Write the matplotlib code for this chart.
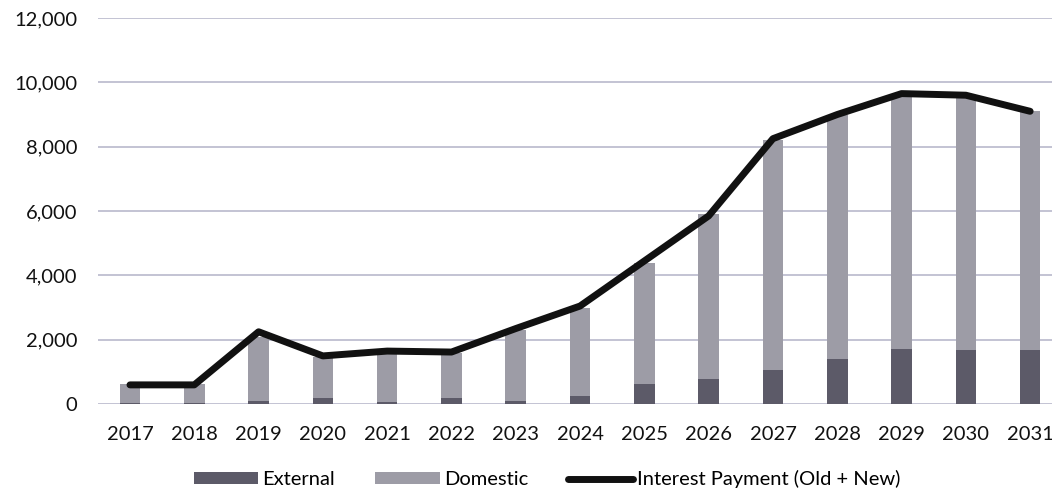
import numpy as np
import matplotlib.pyplot as plt
from matplotlib.ticker import FuncFormatter

years = ['2017', '2018', '2019', '2020', '2021', '2022', '2023', '2024',
         '2025', '2026', '2027', '2028', '2029', '2030', '2031']
total = [620, 620, 2100, 1460, 1590, 1590, 2300, 3000,
         4400, 5900, 8200, 9000, 9600, 9600, 9100]
external = [30, 30, 100, 200, 80, 200, 100, 250,
            620, 780, 1060, 1400, 1710, 1680, 1690]
domestic = [t - e for t, e in zip(total, external)]
interest = [600, 600, 2250, 1500, 1650, 1620, 2350, 3050,
            4450, 5850, 8250, 9000, 9650, 9600, 9100]

plt.rcParams['font.family'] = ['Lato', 'DejaVu Sans']

fig = plt.figure(figsize=(10.52, 4.99), dpi=100)
ax = fig.add_axes([0.093, 0.19, 0.907, 0.774])

x = np.arange(len(years))
w = 0.32
b1 = ax.bar(x, external, w, color='#5c5a68', label='External', zorder=2)
b2 = ax.bar(x, domestic, w, bottom=external, color='#9d9ca6', label='Domestic', zorder=2)
ln, = ax.plot(x, interest, color='#111111', lw=5, solid_capstyle='round',
              label='Interest Payment (Old + New)', zorder=3)

ax.set_ylim(0, 12000)
ax.set_xlim(-0.5, 14.34)
ax.set_yticks(np.arange(0, 12001, 2000))
ax.yaxis.set_major_formatter(FuncFormatter(lambda v, p: f'{int(v):,}'))
ax.set_xticks(x)
ax.set_xticklabels(years)
ax.grid(axis='y', color='#b9b9cc', lw=1.2, zorder=0)
for s in ax.spines.values():
    s.set_visible(False)
ax.tick_params(length=0, labelsize=14.5, colors='#111111')
ax.tick_params(axis='x', pad=16)
ax.tick_params(axis='y', pad=15)

# legend order: bars first, then the line
fig.legend([b1, b2, ln], ['External', 'Domestic', 'Interest Payment (Old + New)'],
           loc='lower center', ncol=3, frameon=False,
           fontsize=14.5, bbox_to_anchor=(0.52, -0.015), handlelength=3.2,
           handleheight=0.5, handletextpad=0.2, columnspacing=2.0)

fig.savefig('out.png', dpi=100)
